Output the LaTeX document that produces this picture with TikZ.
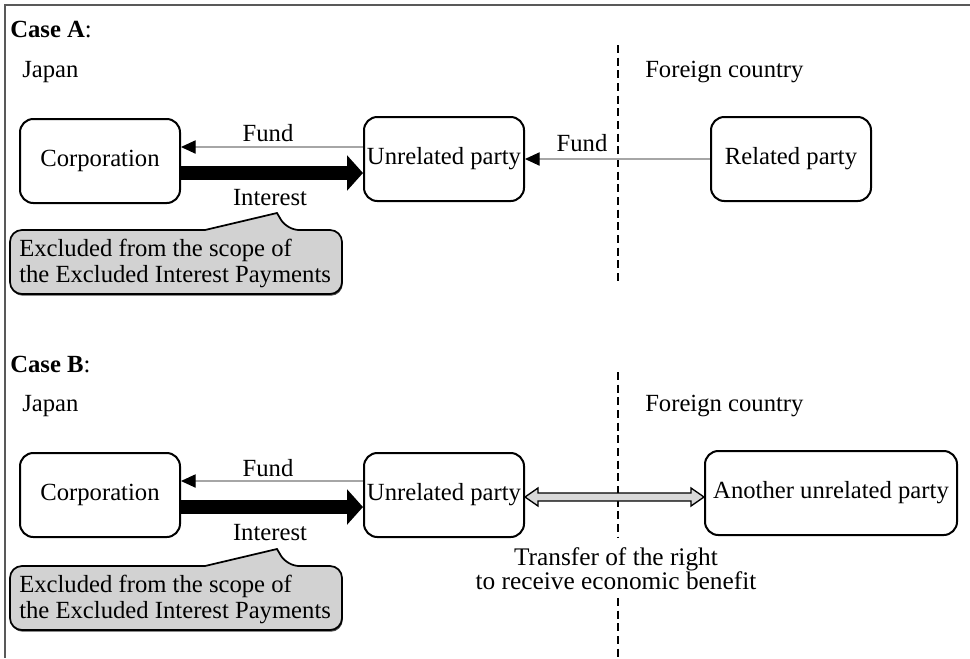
\documentclass[tikz,border=0pt]{standalone}
\usepackage{fontspec}
\setmainfont{Liberation Serif}
\usetikzlibrary{arrows.meta,calc,shadows}
\begin{document}
\begin{tikzpicture}[x=0.75pt,y=-0.75pt,
  box/.style={draw, line width=1.5pt, rounded corners=10pt, minimum width=120pt, minimum height=63pt, inner sep=0pt, font=\fontsize{18.5}{22}\selectfont},
  lbl/.style={font=\fontsize{18.5}{22}\selectfont, inner sep=0pt},
  fundarrow/.style={draw=gray!70, line width=0.8pt, -{Triangle[length=11pt,width=10pt,color=black]}},
  intarrow/.style={line width=11pt, -{Triangle[length=12pt,width=26pt]}},
  divider/.style={line width=1.5pt, dash pattern=on 6pt off 3.5pt},
  calloutbox/.style={fill=gray!35, draw, line width=1.3pt, drop shadow={shadow xshift=0.6pt, shadow yshift=-1.3pt, fill=black!70, opacity=1}},
  notetext/.style={anchor=west, align=left, inner sep=0pt, font=\fontsize{18.5}{19.5}\selectfont},
  dblarrow/.style={fill=gray!30, draw, line width=1pt},
]
\useasboundingbox (0,0) rectangle (970,658);
% frame
\draw[gray!70!black, line width=1.5pt] (970,5) -- (5,5) -- (5,658);

% ---------------- Case A ----------------
\node[lbl, anchor=west] (caseA) at (10,30) {\textbf{Case A}:};
\node[lbl, anchor=west] (japanA) at (22,72) {Japan};
\node[lbl, anchor=west] (foreignA) at (645,72) {Foreign country};
\draw[divider] (618,45) -- (618,282);

\node[box] (corpA) at (100,161) {Corporation};
\node[box] (unrA) at (444,159) {Unrelated party};
\node[box] (relA) at (791,159) {Related party};

\draw[fundarrow] ($(unrA.west)+(0,-12)$) -- ($(corpA.east)+(0,-14)$);
\draw[intarrow] ($(corpA.east)+(0,12)$) -- ($(unrA.west)+(0,14)$);
\draw[fundarrow] (relA.west) -- (unrA.east);

\node[lbl] (fundA1) at (268,133) {Fund};
\node[lbl] (intA) at (270,198) {Interest};
\node[lbl] (fundA2) at (582,143) {Fund};

\filldraw[calloutbox] (10,262) [rounded corners=9pt] -- (10,294) -- (342,294) -- (342,230) -- (287,230) [sharp corners] -- (277,213) -- (205,230) [rounded corners=9pt] -- (10,230) -- cycle;
\node[notetext] (noteA) at (19,263) {Excluded from the scope of\\the Excluded Interest Payments};

% ---------------- Case B ----------------
\node[lbl, anchor=west] (caseB) at (10,364) {\textbf{Case B}:};
\node[lbl, anchor=west] (japanB) at (22,406) {Japan};
\node[lbl, anchor=west] (foreignB) at (645,406) {Foreign country};
\draw[divider] (618,372) -- (618,538);
\draw[divider] (618,598) -- (618,658);

\node[box] (corpB) at (100,495) {Corporation};
\node[box] (unrB) at (444,495) {Unrelated party};
\node[box, minimum width=189pt] (anB) at (831,493) {Another unrelated party};

\draw[fundarrow] ($(unrB.west)+(0,-14)$) -- ($(corpB.east)+(0,-14)$);
\draw[intarrow] ($(corpB.east)+(0,12)$) -- ($(unrB.west)+(0,12)$);

\coordinate (d1) at ($(unrB.east)+(0,2)$);
\coordinate (d2) at ($(anB.west |- unrB.east)+(0,2)$);
\filldraw[dblarrow] (d1) -- ++(13,-9) -- ++(0,5) -- ($(d2)+(-13,-4)$) -- ++(0,-5) -- (d2) -- ++(-13,9) -- ++(0,-5) -- ($(d1)+(13,4)$) -- ++(0,5) -- cycle;

\node[lbl] (fundB) at (268,468) {Fund};
\node[lbl] (intB) at (270,533) {Interest};
\node[lbl, align=center, font=\fontsize{19}{18}\selectfont] (transfer) at (616,569) {Transfer of the right\\to receive economic benefit};

\filldraw[calloutbox] (10,598) [rounded corners=9pt] -- (10,630) -- (342,630) -- (342,566) -- (287,566) [sharp corners] -- (277,549) -- (205,566) [rounded corners=9pt] -- (10,566) -- cycle;
\node[notetext] (noteB) at (19,599) {Excluded from the scope of\\the Excluded Interest Payments};
\end{tikzpicture}
\end{document}
